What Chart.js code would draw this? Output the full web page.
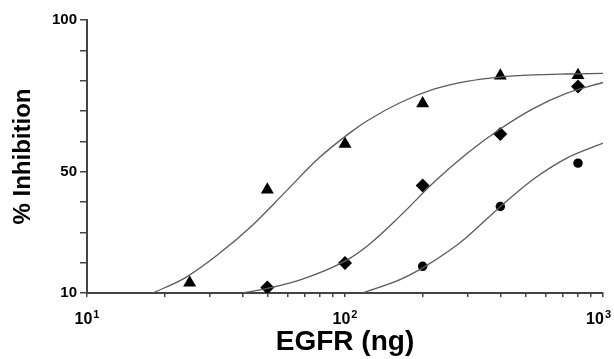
<!DOCTYPE html>
<html>
<head>
<meta charset="utf-8">
<script src="https://cdn.jsdelivr.net/npm/chart.js@4.4.1/dist/chart.umd.min.js"></script>
<style>
  html, body { margin: 0; padding: 0; background: #fff; }
  #wrap { width: 614px; height: 359px; position: relative; }
</style>
</head>
<body>
<div id="wrap"><canvas id="c" width="614" height="359"></canvas></div>
<script>
// ---- data ----
const triangleDoses = [25, 50, 100, 200, 400, 800];
const triangleValues = [13.4, 44.0, 59.1, 72.5, 81.6, 81.8];

const diamondDoses = [50, 100, 200, 400, 800];
const diamondValues = [11.8, 19.9, 45.4, 62.4, 78.1];

const circleDoses = [200, 400, 800];
const circleValues = [18.8, 38.5, 52.8];

// fitted curves
const triangleCurveX = [18, 24, 32, 44, 59, 79, 106, 122, 164, 221, 297, 398, 537, 721, 1000];
const triangleCurveY = [10, 15, 22.5, 32.5, 43.5, 54.4, 63.2, 66.8, 72.8, 77.2, 79.8, 81.2, 81.9, 82.2, 82.4];

const diamondCurveX = [40, 50, 68, 100, 122, 164, 221, 297, 398, 537, 721, 1000];
const diamondCurveY = [10, 11.5, 14.5, 20.5, 25.5, 35.5, 46.5, 56, 64, 70.8, 75.8, 79.4];

const circleCurveX = [117, 164, 200, 254, 297, 398, 537, 721, 1000];
const circleCurveY = [10, 14.5, 18.3, 24, 28.5, 38.3, 47.5, 54.4, 59.4];

// axes
const xTickValues = [10, 20, 30, 40, 50, 60, 70, 80, 90, 100, 200, 300, 400, 500, 600, 700, 800, 900, 1000];
const xPowerTicks = [10, 100, 1000];
const xPowerBases = ['10', '10', '10'];
const xPowerExps = ['1', '2', '3'];
const yTickValues = [10, 20, 30, 40, 50, 60, 70, 80, 90, 100];
const yTickLabels = { 10: '10', 50: '50', 100: '100' };

const xTitle = 'EGFR (ng)';
const yTitle = '% Inhibition';

const FONT = "'Liberation Sans', Arial, Helvetica, sans-serif";

Chart.defaults.font.family = FONT;
Chart.defaults.color = '#000';

// power-of-ten labels on the x axis (base + raised exponent), placed by the scale
const xPowerLabelPlugin = {
  id: 'xPowerLabels',
  afterDraw(chart) {
    const s = chart.scales.x;
    const ctx = chart.ctx;
    const baseline = s.top + 31;
    ctx.save();
    ctx.fillStyle = '#000';
    ctx.textAlign = 'left';
    ctx.textBaseline = 'alphabetic';
    xPowerTicks.forEach((v, i) => {
      ctx.font = 'bold 16px ' + FONT;
      const wb = ctx.measureText(xPowerBases[i]).width;
      ctx.font = 'bold 11px ' + FONT;
      const we = ctx.measureText(xPowerExps[i]).width;
      const total = wb + 1 + we;
      let x0 = s.getPixelForValue(v) - total / 2;
      x0 = Math.min(x0, chart.width - total - 3);
      ctx.font = 'bold 16px ' + FONT;
      ctx.fillText(xPowerBases[i], x0, baseline);
      ctx.font = 'bold 11px ' + FONT;
      ctx.fillText(xPowerExps[i], x0 + wb + 1, baseline - 6);
    });
    ctx.restore();
  }
};

const toXY = (xs, ys) => xs.map((x, i) => ({ x: x, y: ys[i] }));

const curveStyle = {
  type: 'line',
  borderColor: '#5a5a5a',
  borderWidth: 1.3,
  pointRadius: 0,
  fill: false,
  cubicInterpolationMode: 'monotone'
};
const pointStyle = {
  type: 'scatter',
  backgroundColor: '#000',
  borderColor: '#000',
  borderWidth: 0,
  showLine: false
};

new Chart(document.getElementById('c'), {
  data: {
    datasets: [
      Object.assign({ label: 'tri fit', data: toXY(triangleCurveX, triangleCurveY) }, curveStyle),
      Object.assign({ label: 'dia fit', data: toXY(diamondCurveX, diamondCurveY) }, curveStyle),
      Object.assign({ label: 'cir fit', data: toXY(circleCurveX, circleCurveY) }, curveStyle),
      Object.assign({ label: 'tri', data: toXY(triangleDoses, triangleValues), pointStyle: 'triangle', pointRadius: 7.5 }, pointStyle),
      Object.assign({ label: 'dia', data: toXY(diamondDoses, diamondValues), pointStyle: 'rectRot', pointRadius: 7 }, pointStyle),
      Object.assign({ label: 'cir', data: toXY(circleDoses, circleValues), pointStyle: 'circle', pointRadius: 4.7 }, pointStyle)
    ]
  },
  plugins: [xPowerLabelPlugin],
  options: {
    responsive: false,
    animation: false,
    events: [],
    layout: { padding: { left: 0, right: 11, top: 20, bottom: 0 } },
    plugins: { legend: { display: false }, tooltip: { enabled: false } },
    scales: {
      x: {
        type: 'logarithmic',
        min: 10,
        max: 1000,
        afterBuildTicks: s => { s.ticks = xTickValues.map(v => ({ value: v })); },
        afterFit: s => { s.height = 66; s.paddingLeft = 0; s.paddingRight = 0; },
        border: { display: true, color: '#444', width: 2 },
        grid: { display: true, drawOnChartArea: false, drawTicks: true, tickLength: 4, color: '#444', lineWidth: 1.5 },
        ticks: {
          autoSkip: false,
          maxRotation: 0,
          padding: 10,
          font: { size: 15, weight: 'bold' },
          callback: () => ''
        },
        title: {
          display: true,
          text: xTitle,
          font: { size: 28, weight: 'bold' },
          padding: { top: 0, bottom: 0 }
        }
      },
      y: {
        type: 'linear',
        min: 10,
        max: 100,
        afterBuildTicks: s => { s.ticks = yTickValues.map(v => ({ value: v })); },
        afterFit: s => { s.width = 87; s.paddingTop = 0; s.paddingBottom = 0; },
        border: { display: true, color: '#444', width: 2 },
        grid: { display: true, drawOnChartArea: false, drawTicks: true, tickLength: 7, color: '#444', lineWidth: 1.5 },
        ticks: {
          autoSkip: false,
          padding: 3,
          font: { size: 15, weight: 'bold' },
          callback: v => yTickLabels[v] || ''
        },
        title: {
          display: true,
          text: yTitle,
          font: { size: 24, weight: 'bold' },
          padding: { top: 9, bottom: 0 }
        }
      }
    }
  }
});
</script>
</body>
</html>
